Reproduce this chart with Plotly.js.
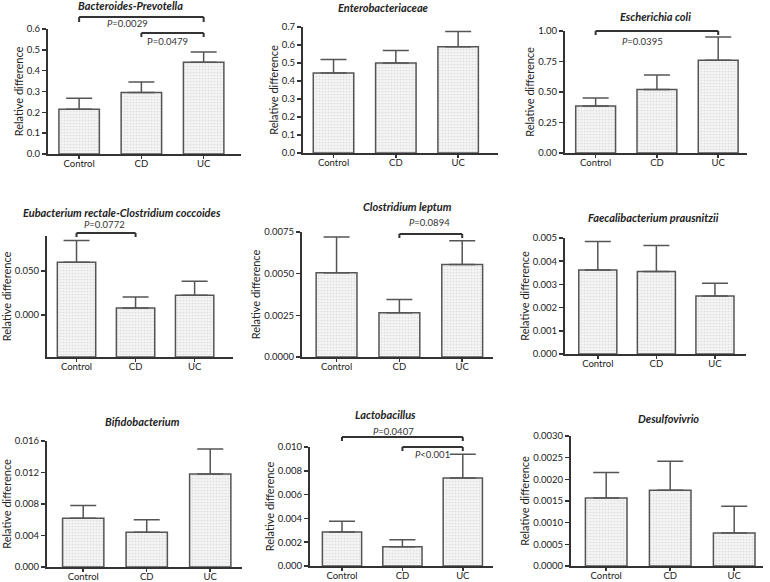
<!DOCTYPE html>
<html>
<head>
<meta charset="utf-8">
<script src="https://cdn.plot.ly/plotly-3.0.1.min.js"></script>
<style>
  html, body { margin: 0; padding: 0; background: #fff; }
  #chart { width: 770px; height: 582px; }
</style>
</head>
<body>
<div id="chart"></div>
<script>
// ===== data =====
const groups = ["Control", "CD", "UC"];

const bactPrevMean = [0.215, 0.295, 0.44];
const bactPrevTop  = [0.268, 0.345, 0.49];

const enteroMean = [0.445, 0.5, 0.59];
const enteroTop  = [0.52, 0.57, 0.675];

const ecoliMean = [0.385, 0.52, 0.76];
const ecoliTop  = [0.45, 0.64, 0.95];

const eubactMean = [0.060, 0.008, 0.0225];
const eubactTop  = [0.085, 0.0205, 0.0385];

const leptumMean = [0.00505, 0.00265, 0.00555];
const leptumTop  = [0.0072, 0.00345, 0.00698];

const faecaliMean = [0.00362, 0.00356, 0.0025];
const faecaliTop  = [0.00485, 0.00468, 0.00305];

const bifidoMean = [0.0062, 0.0044, 0.0118];
const bifidoTop  = [0.0078, 0.006, 0.015];

const lactoMean = [0.00285, 0.00162, 0.0074];
const lactoTop  = [0.00375, 0.0022, 0.0094];

const desulfoMean = [0.00157, 0.00175, 0.00076];
const desulfoTop  = [0.00216, 0.00242, 0.00138];

// ===== panel setup (pixel boxes in the 770x582 page) =====
const W = 770, H = 582;
const FONT = "Lato, 'Open Sans', sans-serif";

const panels = [
  { title: "Bacteroides-Prevotella", mean: bactPrevMean, top: bactPrevTop,
    px: [48, 241], py: [29, 154], yr: [0, 0.6], xr: [-0.5, 2.6], dtick: 0.1, fmt: ".1f", tx: 130, ty: 6,
    brackets: [
      { x0: 0, x1: 2, y: 17, leg: 5, label: "<i>P</i>=0.0029", lx: 0.78, ly: 24 },
      { x0: 1, x1: 2, y: 33, leg: 4, label: "P=0.0479", lx: 1.42, ly: 42 }
    ] },
  { title: "Enterobacteriaceae", mean: enteroMean, top: enteroTop,
    px: [303, 498], py: [27, 153], yr: [0, 0.7], xr: [-0.49, 2.64], dtick: 0.1, fmt: ".1f", tx: 383, ty: 8 },
  { title: "Escherichia coli", mean: ecoliMean, top: ecoliTop,
    px: [565, 747], py: [31, 153], yr: [0, 1], xr: [-0.5, 2.47], dtick: 0.25, fmt: ".2f", tx: 655, ty: 16,
    brackets: [
      { x0: 0, x1: 2, y: 31, leg: 4, label: "<i>P</i>=0.0395", lx: 0.77, ly: 42 }
    ] },
  { title: "Eubacterium rectale-Clostridium coccoides", mean: eubactMean, top: eubactTop,
    px: [47, 233], py: [236, 357], yr: [-0.048, 0.09], xr: [-0.5, 2.65], tickvals: [0, 0.05], fmt: ".3f", tx: 122, ty: 212,
    brackets: [
      { x0: 0, x1: 1, y: 233, leg: 4, label: "<i>P</i>=0.0772", lx: 0.48, ly: 225 }
    ] },
  { title: "Clostridium leptum", mean: leptumMean, top: leptumTop,
    px: [302, 493], py: [232, 357], yr: [0, 0.0075], xr: [-0.55, 2.49], dtick: 0.0025, fmt: ".4f", tx: 407, ty: 206,
    brackets: [
      { x0: 1, x1: 2, y: 234, leg: 4, label: "<i>P</i>=0.0894", lx: 1.48, ly: 223 }
    ] },
  { title: "Faecalibacterium prausnitzii", mean: faecaliMean, top: faecaliTop,
    px: [565, 746], py: [238, 354], yr: [0, 0.005], xr: [-0.56, 2.53], dtick: 0.001, fmt: ".3f", tx: 653, ty: 217 },
  { title: "Bifidobacterium", mean: bifidoMean, top: bifidoTop,
    px: [47, 242], py: [441, 567], yr: [0, 0.016], xr: [-0.57, 2.5], dtick: 0.004, fmt: ".3f", tx: 142, ty: 421 },
  { title: "Lactobacillus", mean: lactoMean, top: lactoTop,
    px: [310, 493], py: [447, 566], yr: [0, 0.010], xr: [-0.53, 2.5], dtick: 0.002, fmt: ".3f", tx: 385, ty: 414,
    brackets: [
      { x0: 0, x1: 2, y: 437, leg: 4, label: "<i>P</i>=0.0407", lx: 0.85, ly: 431 },
      { x0: 1, x1: 2, y: 447, leg: 4, label: "<i>P</i><0.001", lx: 1.5, ly: 454 }
    ] },
  { title: "Desulfovivrio", mean: desulfoMean, top: desulfoTop,
    px: [571, 763], py: [436, 566], yr: [0, 0.003], xr: [-0.55, 2.45], dtick: 0.0005, fmt: ".4f", tx: 668, ty: 418 }
];

// ===== helpers =====
const fx = p => p / W;
const fy = p => 1 - p / H;

const traces = [];
const layout = {
  width: W, height: H,
  margin: { l: 0, r: 0, t: 0, b: 0 },
  paper_bgcolor: "#fff", plot_bgcolor: "rgba(0,0,0,0)",
  showlegend: false,
  font: { family: FONT, color: "#333" },
  annotations: [],
  shapes: []
};

panels.forEach((p, i) => {
  const n = i + 1;
  const xa = n === 1 ? "x" : "x" + n;
  const ya = n === 1 ? "y" : "y" + n;
  const base = p.yr[0];

  traces.push({
    type: "bar",
    x: [0, 1, 2],
    y: p.mean.map(v => v - base),
    base: base,
    width: 0.65,
    xaxis: xa, yaxis: ya,
    marker: {
      color: "#f3f3f3",
      line: { color: "#555", width: 1.5 },
      pattern: { shape: ".", fgcolor: "#dedede", bgcolor: "#f4f4f4", size: 3, solidity: 0.25 }
    },
    error_y: {
      type: "data", symmetric: false,
      array: p.top.map((t, k) => t - p.mean[k]),
      arrayminus: p.mean.map(() => 0),
      color: "#555", thickness: 1.5, width: 13
    },
    hoverinfo: "skip"
  });

  layout["xaxis" + (n === 1 ? "" : n)] = {
    domain: [fx(p.px[0]), fx(p.px[1])],
    anchor: ya,
    range: p.xr,
    tickvals: [0, 1, 2], ticktext: groups,
    showline: true, linecolor: "#333", linewidth: 2,
    ticks: "outside", ticklen: 3, tickwidth: 1.5, tickcolor: "#333",
    ticklabelstandoff: -3,
    showgrid: false, zeroline: false, fixedrange: true,
    tickfont: { family: FONT, size: 9.5, color: "#222" }
  };

  const yax = {
    domain: [fy(p.py[1]), fy(p.py[0])],
    anchor: xa,
    range: p.yr,
    tickformat: p.fmt,
    showline: true, linecolor: "#333", linewidth: 2,
    ticks: "outside", ticklen: 4, tickwidth: 1.5, tickcolor: "#333",
    showgrid: false, zeroline: false, fixedrange: true,
    tickfont: { family: FONT, size: 9.5, color: "#222" },
    title: { text: "Relative difference", font: { family: FONT, size: 11, color: "#222" }, standoff: 1 }
  };
  if (p.tickvals) { yax.tickmode = "array"; yax.tickvals = p.tickvals; }
  else { yax.tick0 = 0; yax.dtick = p.dtick; }
  layout["yaxis" + (n === 1 ? "" : n)] = yax;

  // panel title
  layout.annotations.push({
    xref: "paper", yref: "paper",
    x: fx(p.tx), y: fy(p.ty), xanchor: "center", yanchor: "middle",
    text: "<b><i>" + p.title + "</i></b>", showarrow: false,
    font: { family: FONT, size: 11, color: "#222" }
  });

  // significance brackets
  (p.brackets || []).forEach(b => {
    const line = { color: "#333", width: 2 };
    layout.shapes.push(
      { type: "line", xref: xa, yref: "paper", x0: b.x0, x1: b.x1, y0: fy(b.y), y1: fy(b.y), line },
      { type: "line", xref: xa, yref: "paper", x0: b.x0, x1: b.x0, y0: fy(b.y), y1: fy(b.y + b.leg), line },
      { type: "line", xref: xa, yref: "paper", x0: b.x1, x1: b.x1, y0: fy(b.y), y1: fy(b.y + b.leg), line }
    );
    layout.annotations.push({
      xref: xa, yref: "paper", x: b.lx, y: fy(b.ly),
      xanchor: "center", yanchor: "middle", showarrow: false,
      text: b.label, font: { family: FONT, size: 9.5, color: "#333" }
    });
  });
});

Plotly.newPlot("chart", traces, layout, { displayModeBar: false, staticPlot: true });
</script>
</body>
</html>
